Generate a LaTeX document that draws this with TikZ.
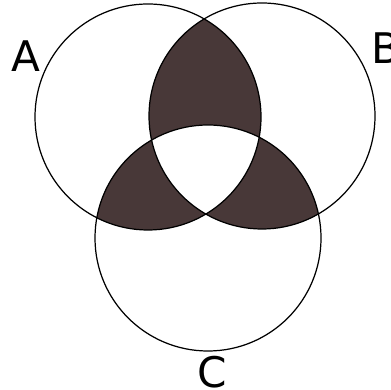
\documentclass[tikz,border=0pt]{standalone}
\usepackage{fontspec}
\setmainfont{DejaVu Sans}
\usetikzlibrary{positioning}
\definecolor{lobe}{RGB}{72,56,56}

\begin{document}
\begin{tikzpicture}[
    ring/.style = {draw=black, line width=0.7pt},
    lbl/.style  = {font=\fontsize{24}{24}\selectfont, inner sep=0pt}
  ]
  \useasboundingbox (0,0) rectangle (7.8,7.8);
  \def\rad{2.26}
  \coordinate (ca) at (2.96,5.46);
  \coordinate (cb) at (5.24,5.48);
  \coordinate (cc) at (4.16,3.04);

  % overlaps of two sets
  \begin{scope}
    \clip (ca) circle (\rad);
    \fill[lobe] (cb) circle (\rad);
    \fill[lobe] (cc) circle (\rad);
  \end{scope}
  \begin{scope}
    \clip (cb) circle (\rad);
    \fill[lobe] (cc) circle (\rad);
  \end{scope}
  % middle stays white
  \begin{scope}
    \clip (ca) circle (\rad);
    \clip (cb) circle (\rad);
    \fill[white] (cc) circle (\rad);
  \end{scope}

  \draw[ring] (ca) circle (\rad);
  \draw[ring] (cb) circle (\rad);
  \draw[ring] (cc) circle (\rad);

  \node[lbl] (labA) at (0.52,6.68) {A};
  \node[lbl] (labB) at (7.72,6.84) {B};
  \node[lbl] (labC) at (4.24,0.36) {C};
\end{tikzpicture}
\end{document}
